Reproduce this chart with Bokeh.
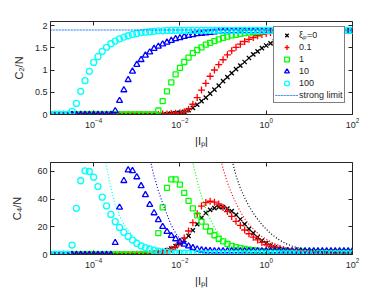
import numpy as np
from bokeh.plotting import figure
from bokeh.models import (FixedTicker, LogAxis, LinearAxis, Legend, LegendItem,
                          NumeralTickFormatter, CustomJSTickFormatter)
from bokeh.layouts import column
from bokeh.embed import file_html
from bokeh.resources import INLINE

# sampling grid of |I_p| (0.1 decade steps, 1e-5 .. 1e2)
ip = np.logspace(-5, 2, 71)

labels = ["ξₚ=0", "0.1", "1", "10", "100"]

# ---- C2/N (top panel) ----
black_c2 = [0, 0, 0, 0, 0, 0, 0, 0, 0, 0,
            0, 0, 0, 0, 0, 0, 0, 0, 0, 0,
            0, 0, 0, 0, 0, 0, 0, 0.01, 0.02, 0.03,
            0.04, 0.06, 0.10, 0.15, 0.22, 0.30, 0.38, 0.47, 0.56, 0.65,
            0.75, 0.84, 0.93, 1.02, 1.10, 1.18, 1.27, 1.35, 1.42, 1.49,
            1.55, 1.60, 1.64, 1.68, 1.72, 1.75, 1.78, 1.80, 1.82, 1.83,
            1.84, 1.85, 1.86, 1.87, 1.87, 1.88, 1.88, 1.88, 1.88, 1.88,
            1.88]
red_c2 = [0, 0, 0, 0, 0, 0, 0, 0, 0, 0,
          0, 0, 0, 0, 0, 0, 0, 0, 0, 0,
          0, 0, 0, 0, 0, 0, 0.01, 0.01, 0.02, 0.03,
          0.04, 0.06, 0.12, 0.23, 0.38, 0.55, 0.70, 0.86, 1.00, 1.12,
          1.23, 1.34, 1.43, 1.51, 1.58, 1.64, 1.69, 1.73, 1.77, 1.80,
          1.82, 1.84, 1.85, 1.86, 1.87, 1.88, 1.88, 1.88, 1.88, 1.88,
          1.88, 1.88, 1.88, 1.88, 1.88, 1.88, 1.88, 1.88, 1.88, 1.88,
          1.88]
green_c2 = [0, 0, 0, 0, 0, 0, 0, 0, 0, 0,
            0, 0, 0, 0, 0, 0, 0, 0, 0, 0,
            0, 0, 0, 0, 0, 0.09, 0.30, 0.52, 0.72, 0.90,
            1.05, 1.18, 1.28, 1.38, 1.45, 1.51, 1.57, 1.61, 1.65, 1.69,
            1.72, 1.75, 1.78, 1.79, 1.81, 1.83, 1.84, 1.85, 1.86, 1.87,
            1.88, 1.88, 1.88, 1.88, 1.88, 1.88, 1.88, 1.88, 1.88, 1.88,
            1.88, 1.88, 1.88, 1.88, 1.88, 1.88, 1.88, 1.88, 1.88, 1.88,
            1.88]
blue_c2 = [0, 0, 0, 0, 0, 0, 0, 0, 0, 0,
           0, 0, 0, 0, 0, 0.08, 0.31, 0.55, 0.78, 0.97,
           1.12, 1.23, 1.33, 1.40, 1.48, 1.53, 1.58, 1.62, 1.66, 1.70,
           1.72, 1.75, 1.77, 1.79, 1.81, 1.82, 1.83, 1.84, 1.85, 1.86,
           1.87, 1.87, 1.88, 1.88, 1.88, 1.88, 1.88, 1.88, 1.88, 1.88,
           1.88, 1.88, 1.88, 1.88, 1.88, 1.88, 1.88, 1.88, 1.88, 1.88,
           1.88, 1.88, 1.88, 1.88, 1.88, 1.88, 1.88, 1.88, 1.88, 1.88,
           1.88]
cyan_c2 = [0, 0, 0, 0, 0, 0.07, 0.25, 0.52, 0.76, 0.97,
           1.17, 1.30, 1.42, 1.51, 1.59, 1.65, 1.70, 1.74, 1.77, 1.80,
           1.82, 1.84, 1.85, 1.86, 1.87, 1.88, 1.88, 1.89, 1.89, 1.89,
           1.89, 1.89, 1.89, 1.89, 1.89, 1.89, 1.89, 1.89, 1.89, 1.89,
           1.89, 1.89, 1.89, 1.89, 1.89, 1.89, 1.89, 1.89, 1.89, 1.89,
           1.89, 1.89, 1.89, 1.89, 1.89, 1.89, 1.89, 1.89, 1.89, 1.89,
           1.89, 1.89, 1.89, 1.89, 1.89, 1.89, 1.89, 1.89, 1.89, 1.89,
           1.89]
strong_c2_x = [1e-5, 1e2]
strong_c2 = [1.9, 1.9]

# ---- C4/N (bottom panel) ----
black_c4 = [0, 0, 0, 0, 0, 0, 0, 0, 0, 0,
            0, 0, 0, 0, 0, 0, 0, 0, 0, 0,
            0.1, 0.2, 0.3, 0.5, 0.8, 1.3, 2.0, 3.0, 4.3, 6.0,
            8.0, 10.5, 13.5, 17.5, 22.0, 26.5, 30.0, 32.3, 33.5, 34.3,
            34.2, 33.2, 31.3, 28.7, 25.5, 22.0, 18.5, 15.5, 12.5, 10.0,
            8.2, 6.5, 5.1, 4.1, 3.3, 2.8, 2.4, 2.1, 1.9, 1.7,
            1.6, 1.5, 1.4, 1.3, 1.3, 1.2, 1.2, 1.2, 1.1, 1.1,
            1.1]
red_c4 = [0, 0, 0, 0, 0, 0, 0, 0, 0, 0,
          0, 0, 0, 0, 0, 0, 0, 0, 0, 0,
          0.1, 0.2, 0.3, 0.5, 0.8, 1.2, 1.8, 2.6, 3.8, 5.5,
          8.5, 12.0, 17.0, 23.0, 29.5, 35.0, 37.5, 38.5, 37.8, 36.5,
          34.0, 31.0, 27.5, 24.0, 21.0, 17.7, 15.0, 12.5, 10.5, 8.7,
          7.2, 6.0, 5.0, 4.2, 3.5, 2.9, 2.5, 2.2, 2.0, 1.8,
          1.7, 1.6, 1.5, 1.4, 1.4, 1.3, 1.3, 1.3, 1.2, 1.2,
          1.2]
green_c4 = [0, 0, 0, 0, 0, 0, 0, 0, 0, 0,
            0, 0, 0, 0, 0, 0, 0, 0, 0, 0,
            0, 0, 0, 0, 0, 15.5, 34.0, 48.2, 54.3, 54.3,
            50.5, 44.5, 38.7, 33.4, 28.3, 23.7, 20.1, 16.8, 13.9, 11.4,
            9.5, 7.7, 6.3, 5.4, 4.6, 4.0, 3.5, 3.1, 2.8, 2.5,
            2.3, 2.2, 2.1, 2.0, 1.9, 1.9, 1.8, 1.8, 1.8, 1.7,
            1.7, 1.7, 1.7, 1.6, 1.6, 1.6, 1.6, 1.6, 1.5, 1.5,
            1.5]
blue_c4 = [0, 0, 0, 0, 0, 0, 0, 0, 0, 0,
           0, 0, 0, 0, 0, 8.5, 34.0, 53.3, 61.0, 60.5,
           56.0, 49.6, 43.1, 36.0, 30.0, 25.0, 20.1, 16.5, 13.6, 11.2,
           9.2, 7.3, 6.0, 4.8, 3.8, 3.2, 2.8, 2.6, 2.5, 2.5,
           2.5, 2.5, 2.5, 2.5, 2.5, 2.5, 2.5, 2.5, 2.5, 2.5,
           2.5, 2.5, 2.5, 2.5, 2.5, 2.5, 2.5, 2.5, 2.5, 2.5,
           2.5, 2.5, 2.5, 2.5, 2.5, 2.5, 2.5, 2.5, 2.5, 2.5,
           2.5]
cyan_c4 = [0, 0, 0, 0, 0, 6.8, 33.4, 53.3, 60.5, 60.0,
           55.9, 49.1, 41.4, 35.1, 29.0, 23.7, 19.6, 16.0, 13.1, 10.4,
           8.0, 6.3, 5.0, 4.0, 3.1, 2.4, 1.9, 1.5, 1.2, 1.0,
           0.9, 0.9, 0.8, 0.8, 0.8, 0.7, 0.7, 0.7, 0.7, 0.7,
           0.7, 0.7, 0.7, 0.7, 0.7, 0.7, 0.7, 0.7, 0.7, 0.7,
           0.7, 0.7, 0.7, 0.7, 0.7, 0.7, 0.7, 0.7, 0.7, 0.7,
           0.7, 0.7, 0.7, 0.7, 0.7, 0.7, 0.7, 0.7, 0.7, 0.7,
           0.7]

# strong-limit curves for C4/N (log10 |I_p|, value)
cyan_sl_logx = [-3.75, -3.7, -3.6, -3.5, -3.4, -3.3, -3.2, -3.1, -3.0, -2.9, -2.8, -2.7, -2.6,
                -2.5, -2.4, -2.3, -2.2, -2.1, -2.0, -1.8, -1.5, -1.0, 2.0]
cyan_sl_c4 = [75, 63, 48, 36, 28, 22, 17.5, 13.5, 10.8, 8.6, 6.9, 5.6, 4.4,
              3.5, 2.7, 2.0, 1.5, 1.0, 0.6, 0.25, 0.1, 0.02, 0]
blue_sl_logx = [-2.7, -2.65, -2.6, -2.5, -2.4, -2.3, -2.2, -2.1, -2.0, -1.9, -1.8, -1.7, -1.6,
                -1.5, -1.4, -1.2, -1.0, 2.0]
blue_sl_c4 = [72, 63, 57, 46, 37, 29, 21, 15.5, 11, 8, 5.6, 3.8, 2.3,
              1.3, 0.8, 0.3, 0.1, 0]
green_sl_logx = [-1.72, -1.7, -1.6, -1.5, -1.4, -1.3, -1.2, -1.1, -1.0, -0.9, -0.8, -0.7, -0.6,
                 -0.5, -0.4, -0.2, 0.0, 0.5, 1.0, 2.0]
green_sl_c4 = [70, 66.5, 53, 42, 33, 25.5, 19.5, 15, 11.5, 8.3, 6, 4.2, 3.1,
               2.3, 1.7, 1.0, 0.6, 0.2, 0.1, 0.05]
red_sl_logx = [-1.1, -1.0, -0.9, -0.8, -0.7, -0.6, -0.5, -0.4, -0.3, -0.2, -0.1, 0.0, 0.1,
               0.2, 0.3, 0.4, 0.5, 0.6, 0.8, 1.0, 1.3, 1.6, 2.0]
red_sl_c4 = [74, 62, 52, 44, 37, 31, 26, 22, 18.5, 15.5, 13, 11, 9.2,
             7.8, 6.5, 5.5, 4.6, 3.9, 2.8, 2.0, 1.2, 0.8, 0.4]
black_sl_logx = [-0.85, -0.8, -0.7, -0.6, -0.5, -0.4, -0.3, -0.2, -0.1, 0.0, 0.1, 0.2, 0.3,
                 0.4, 0.5, 0.6, 0.8, 1.0, 1.3, 1.6, 2.0]
black_sl_c4 = [76, 69, 57, 48, 41, 35, 30, 25.5, 21.5, 18.3, 15.3, 12.8, 10.6,
               8.8, 7.3, 6.1, 4.3, 3.1, 2.0, 1.3, 0.8]

x_ticks = [1e-4, 1e-2, 1e0, 1e2]
c2_ticks = [0, 0.5, 1, 1.5, 2]
c4_ticks = [0, 20, 40, 60]

FONT = "Liberation Sans"
TXT = "#262626"
COLORS = ["#000000", "#ff0000", "#00ff00", "#0000ff", "#00ffff"]
MARKERS = ["x", "cross", "square", "triangle", "circle"]
SIZES = [6, 7, 5, 6, 6]


def make_fig(fh, ymax, yticks, ylabel, ylab_standoff, bt, bb):
    p = figure(frame_width=302, frame_height=fh, x_axis_type="log",
               x_range=(1e-5, 1e2), y_range=(0, ymax),
               output_backend="svg", toolbar_location=None,
               min_border_left=50, min_border_right=29,
               min_border_top=bt, min_border_bottom=bb)
    p.xgrid.visible = False
    p.ygrid.visible = False
    p.outline_line_color = TXT
    p.outline_line_width = 1
    p.background_fill_color = "white"
    p.xaxis.ticker = FixedTicker(ticks=x_ticks, minor_ticks=[])
    p.yaxis.ticker = FixedTicker(ticks=yticks, minor_ticks=[])
    p.yaxis.formatter = NumeralTickFormatter(format="0.[0]")
    for ax in (p.xaxis[0], p.yaxis[0]):
        ax.major_tick_in = 4
        ax.major_tick_out = 0
        ax.minor_tick_in = 0
        ax.minor_tick_out = 0
        ax.axis_line_color = TXT
        ax.major_tick_line_color = TXT
        ax.major_label_text_font = FONT
        ax.major_label_text_font_size = "9px"
        ax.major_label_text_color = TXT
        ax.axis_label_text_font = FONT
        ax.axis_label_text_font_size = "11px"
        ax.axis_label_text_font_style = "normal"
        ax.axis_label_text_color = TXT
        ax.major_label_standoff = 3
    p.xaxis.axis_label = "|Iₚ|"
    p.xaxis.axis_label_standoff = 4
    p.yaxis.axis_label = ylabel
    p.yaxis.axis_label_standoff = ylab_standoff
    blank = CustomJSTickFormatter(code="return '';")
    top = LogAxis(ticker=FixedTicker(ticks=x_ticks, minor_ticks=[]), formatter=blank,
                  major_tick_in=4, major_tick_out=0, minor_tick_in=0, minor_tick_out=0,
                  major_label_standoff=0,
                  axis_line_color=None, major_tick_line_color=TXT)
    right = LinearAxis(ticker=FixedTicker(ticks=yticks, minor_ticks=[]), formatter=blank,
                       major_tick_in=4, major_tick_out=0, minor_tick_in=0, minor_tick_out=0,
                       major_label_standoff=0,
                       axis_line_color=None, major_tick_line_color=TXT)
    p.add_layout(top, "above")
    p.add_layout(right, "right")
    return p


# ---------------- top panel ----------------
p1 = make_fig(93, 2.09, c2_ticks, "C₂/N", 7, 21, 34)
series_c2 = [black_c2, red_c2, green_c2, blue_c2, cyan_c2]
items = []
for vals, col, mk, sz, lab in zip(series_c2, COLORS, MARKERS, SIZES, labels):
    r = p1.scatter(ip, vals, marker=mk, size=sz, line_color=col, fill_color=None,
                   line_width=1.3)
    items.append(LegendItem(label=lab, renderers=[r]))
sl1 = p1.line(strong_c2_x, strong_c2, line_color="#0000ff", line_width=1.1, line_dash="1 2")
sl2 = p1.line(strong_c2_x, strong_c2, line_color="#00bfff", line_width=1.1, line_dash="1 2",
              line_dash_offset=1)
items.append(LegendItem(label="strong limit", renderers=[sl1, sl2]))

legend = Legend(items=items, location=(223, 11), orientation="vertical",
                label_text_font=FONT, label_text_font_size="9px", label_text_color=TXT,
                glyph_width=23, glyph_height=12, label_height=12, label_standoff=1,
                spacing=-3, padding=1, margin=0,
                border_line_color="#000000", border_line_width=1,
                background_fill_color="white", background_fill_alpha=1)
p1.add_layout(legend)

# ---------------- bottom panel ----------------
p2 = make_fig(92, 66.5, c4_ticks, "C₄/N", 11, 13, 31)
series_c4 = [black_c4, red_c4, green_c4, blue_c4, cyan_c4]
for vals, col, mk, sz in zip(series_c4, COLORS, MARKERS, SIZES):
    p2.scatter(ip, vals, marker=mk, size=sz, line_color=col, fill_color=None, line_width=1.3)

sl_sets = [(black_sl_logx, black_sl_c4), (red_sl_logx, red_sl_c4), (green_sl_logx, green_sl_c4),
           (blue_sl_logx, blue_sl_c4), (cyan_sl_logx, cyan_sl_c4)]
for (lx, vals), col in zip(sl_sets, COLORS):
    p2.line(10 ** np.array(lx), vals, line_color=col, line_width=1.2, line_dash="1 2")

layout = column(p1, p2, spacing=0)
open("out.html", "w").write(file_html(layout, INLINE))
